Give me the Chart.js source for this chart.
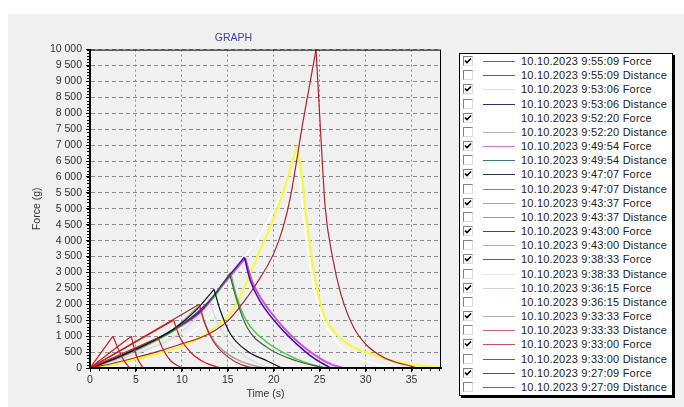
<!DOCTYPE html>
<html>
<head>
<meta charset="utf-8">
<script src="https://cdn.jsdelivr.net/npm/chart.js@4.4.1/dist/chart.umd.min.js"></script>
<style>
body { margin: 0; background: #fff; width: 684px; height: 407px; overflow: hidden; font-family: Arial, "Liberation Sans", sans-serif; }
#panel { position: absolute; left: 8px; top: 14px; width: 676px; height: 393px; background: #f0f0f0; }
#wrap { position: absolute; left: 8px; top: 14px; width: 450px; height: 393px; }
#legend { position: absolute; left: 459px; top: 53px; width: 212px; height: 341px; background: #fff; border: 1px solid #000; box-shadow: 2px 2px 0 #000; }
.row { position: absolute; left: 0; width: 212px; height: 14px; }
.box { position: absolute; left: 3px; top: 2px; width: 8px; height: 8px; background: #fff; border-top: 1px solid #808080; border-left: 1px solid #808080; border-right: 1px solid #dcdcdc; border-bottom: 1px solid #dcdcdc; }
.box svg { position: absolute; left: 0; top: 0; }
.line { position: absolute; left: 23px; top: 7px; width: 32px; height: 1px; }
.txt { position: absolute; left: 61px; top: 0; font-size: 11px; line-height: 14px; letter-spacing: 0.2px; color: #222; white-space: nowrap; }
</style>
</head>
<body>
<div id="panel"></div>
<div id="wrap"><canvas id="graph" width="450" height="393"></canvas></div>
<div id="legend"></div>
<script>
// legend entries
var testDate = '10.10.2023';
var testTimes = ['9:55:09', '9:53:06', '9:52:20', '9:49:54', '9:47:07', '9:43:37', '9:43:00', '9:38:33', '9:36:15', '9:33:33', '9:33:00', '9:27:09'];
var forceColors = ['#c84050', '#f4f040', '#ffffff', '#e070e0', '#303058', '#60d860', '#703070', '#606070', '#d0d8d8', '#b0b0b0', '#c85060', '#a03040'];
var distanceColors = ['#3a7a50', '#303070', '#b8b8b8', '#407878', '#a07878', '#a89870', '#50dcdc', '#e4e4e4', '#ffffff', '#d06070', '#b04050', '#c84060'];

// force curves: time (s) / force (g)
var t0955 = [0, 2.5, 5, 7.5, 10, 12, 13.6, 15, 16.4, 18, 20, 21, 21.8, 23.2, 24.6, 25.15, 25.6, 26.4, 27.3, 28.7, 30.2, 32, 33.5, 34.9, 35.6];
var f0955 = [0, 150, 330, 530, 760, 950, 1180, 1480, 1950, 2600, 3600, 4400, 5350, 7770, 10000, 7140, 5040, 3470, 2330, 1270, 690, 325, 160, 60, 0];
var t0953 = [0, 2, 4.4, 7, 9.8, 12, 14, 15.5, 17, 18.2, 20, 21.5, 22.5, 22.9, 23.6, 24.3, 25.2, 26.8, 28.4, 30.2, 32, 33.8, 35.6, 37.4, 38.1];
var f0953 = [0, 80, 230, 420, 660, 950, 1350, 1800, 2650, 3500, 4700, 5950, 6980, 6400, 4620, 3150, 1900, 1070, 700, 480, 300, 170, 90, 40, 0];
var t0952 = [0, 3, 6, 9, 12, 14.5, 16.7, 18.5, 20, 21.8, 22.3, 22.6, 23.3, 24, 24.9, 26.5, 28.4, 30.5, 33];
var f0952 = [0, 200, 450, 800, 1300, 2100, 3400, 4200, 4950, 6200, 6800, 6300, 4600, 3100, 1900, 950, 450, 180, 0];
var t0949 = [0, 3, 6, 9, 12, 15, 16.9, 17.6, 18.7, 20.9, 22.7, 24.6, 26.2, 27.5];
var f0949 = [0, 330, 720, 1170, 1750, 2800, 3450, 2760, 2150, 1320, 800, 380, 120, 0];
var t0947 = [0, 3, 6, 9, 11.5, 13.5, 14.2, 15.3, 17.1, 19.3, 20.9];
var f0947 = [0, 330, 730, 1200, 1800, 2470, 1790, 1060, 535, 220, 0];
var t0943b = [0, 3, 6, 9, 12, 13.7, 15.3, 16, 17.1, 19.3, 22.5, 24.5, 25.8];
var f0943b = [0, 320, 700, 1150, 1800, 2300, 3000, 2200, 1450, 800, 280, 80, 0];
var t0943 = [0, 3, 6, 9, 12, 15, 16.8, 17.45, 18.5, 20.7, 22.5, 24.4, 26.2];
var f0943 = [0, 340, 740, 1200, 1780, 2850, 3480, 2740, 2100, 1270, 750, 300, 0];
var t0938 = [0, 3, 6, 9, 12, 13.7, 15.2, 16, 17.1, 19.3, 22.5, 25.5];
var f0938 = [0, 330, 720, 1180, 1830, 2350, 2950, 2100, 1270, 640, 220, 0];
var t0936 = [0, 3, 6, 9, 12, 13, 13.6, 14.8, 16.5, 18.2, 19.6];
var f0936 = [0, 250, 560, 950, 1700, 2150, 1600, 950, 450, 150, 0];
var t0933b = [0, 3, 6, 9, 11.9, 12.4, 13.5, 15.3, 16.5, 17.8, 19];
var f0933b = [0, 300, 680, 1200, 1950, 1480, 850, 380, 200, 80, 0];
var t0933 = [0, 4.5, 4.8, 5.2, 5.8];
var f0933 = [0, 1000, 620, 280, 0];
var t0927 = [0, 2.5, 3, 3.6, 4.3];
var f0927 = [0, 1000, 650, 280, 0];
var tRedA = [0, 7.4, 8, 8.8, 10];
var fRedA = [0, 950, 560, 220, 0];
var tRedB = [0, 9.1, 9.8, 11, 12.5, 14.2];
var fRedB = [0, 1500, 950, 480, 170, 0];
var tRedC = [0, 11.9, 12.5, 13.5, 15, 16.5, 17.8];
var fRedC = [0, 2000, 1400, 800, 350, 100, 0];

var yTicks = [0, 10000, 500];
var xTicks = [0, 38.2, 5];

var curves = [
    { t: t0955, f: f0955, color: '#b0202e', width: 1.2 },
    { t: t0927, f: f0927, color: '#c82020', width: 1.2 },
    { t: t0933, f: f0933, color: '#c82020', width: 1.2 },
    { t: tRedA, f: fRedA, color: '#b82828', width: 1.2 },
    { t: tRedB, f: fRedB, color: '#c82020', width: 1.2 },
    { t: tRedC, f: fRedC, color: '#b82828', width: 1.2 },
    { t: t0947, f: f0947, color: '#101018', width: 1.2 },
    { t: t0938, f: f0938, color: '#505050', width: 1.2 },
    { t: t0943, f: f0943, color: '#4010a0', width: 1.5 },
    { t: t0943b, f: f0943b, color: '#30d030', width: 1.3 },
    { t: t0949, f: f0949, color: '#d050e0', width: 2 },
    { t: t0933b, f: f0933b, color: '#a0a0a0', width: 1.5 },
    { t: t0936, f: f0936, color: '#d8d8d8', width: 1.2 },
    { t: t0953, f: f0953, color: '#f8f840', width: 2.2 },
    { t: t0952, f: f0952, color: '#ffffff', width: 1.3 }
];

// split each curve at its peak so the peak stays sharp
var datasets = [];
curves.forEach(function (c) {
    var peak = c.f.indexOf(Math.max.apply(null, c.f));
    var pts = c.t.map(function (x, i) { return { x: x, y: c.f[i] }; });
    [pts.slice(0, peak + 1), pts.slice(peak)].forEach(function (part) {
        datasets.push({
            data: part,
            borderColor: c.color,
            borderWidth: c.width,
            pointRadius: 0,
            cubicInterpolationMode: 'monotone',
            fill: false
        });
    });
});

// legend (HTML, with check boxes)
var legend = document.getElementById('legend');
var rowIndex = 0;
testTimes.forEach(function (tm, i) {
    [['Force', forceColors[i], true], ['Distance', distanceColors[i], false]].forEach(function (e) {
        var row = document.createElement('div');
        row.className = 'row';
        row.style.top = (rowIndex * 14.17) + 'px';
        var box = '<div class="box">' + (e[2] ? '<svg width="8" height="8"><path d="M1 3.5 L3 5.5 L7 1.5" stroke="#000" stroke-width="1.6" fill="none"/></svg>' : '') + '</div>';
        row.innerHTML = box + '<div class="line" style="background:' + e[1] + '"></div><div class="txt">' + testDate + ' ' + tm + ' ' + e[0] + '</div>';
        legend.appendChild(row);
        rowIndex++;
    });
});

var fontFamily = 'Arial, "Liberation Sans", sans-serif';
Chart.defaults.font.family = fontFamily;
Chart.defaults.font.size = 10.5;
Chart.defaults.color = '#333';

var axisFrame = {
    id: 'axisFrame',
    afterDraw: function (chart) {
        var ctx = chart.ctx, a = chart.chartArea, x = chart.scales.x, y = chart.scales.y;
        ctx.save();
        ctx.strokeStyle = '#000';
        ctx.lineWidth = 1;
        ctx.strokeRect(a.left + 0.5, a.top + 0.5, a.right - a.left - 1, a.bottom - a.top - 1);
        ctx.beginPath();
        for (var v = 0; v <= x.max; v += 1) {
            var px = Math.round(x.getPixelForValue(v)) + 0.5;
            ctx.moveTo(px, a.bottom);
            ctx.lineTo(px, a.bottom + 3);
        }
        for (var w = 0; w <= y.max; w += 100) {
            var py = Math.round(y.getPixelForValue(w)) + 0.5;
            ctx.moveTo(a.left - 3, py);
            ctx.lineTo(a.left, py);
        }
        ctx.stroke();
        ctx.restore();
    }
};

var graph = new Chart(document.getElementById('graph').getContext('2d'), {
    type: 'line',
    data: { datasets: datasets },
    options: {
        responsive: false,
        animation: false,
        devicePixelRatio: 1,
        layout: { padding: { left: 18, right: 17, top: 0, bottom: 0 } },
        plugins: {
            legend: { display: false },
            tooltip: { enabled: false },
            title: {
                display: true,
                text: 'GRAPH',
                color: '#3c3cc8',
                font: { size: 10.5, weight: 'normal' },
                padding: { top: 18, bottom: 5 }
            }
        },
        scales: {
            x: {
                type: 'linear',
                min: xTicks[0],
                max: xTicks[1],
                afterFit: function (s) { s.height = 39; },
                ticks: { stepSize: xTicks[2], includeBounds: false, padding: 2, color: '#333' },
                grid: { color: '#8c8c8c', lineWidth: 1, tickLength: 4, tickColor: '#000' },
                border: { color: '#000', width: 2, dash: [2, 3] },
                title: { display: true, text: 'Time (s)', color: '#333', padding: { top: 0, bottom: 7 } }
            },
            y: {
                min: yTicks[0],
                max: yTicks[1],
                afterFit: function (s) { s.width = 64; },
                ticks: {
                    stepSize: yTicks[2],
                    autoSkip: false,
                    padding: 4,
                    color: '#333',
                    callback: function (v) { return String(v).replace(/\B(?=(\d{3})+(?!\d))/g, ' '); }
                },
                grid: { color: '#8c8c8c', lineWidth: 1, tickLength: 4, tickColor: '#000' },
                border: { color: '#000', width: 2, dash: [4, 3] },
                title: { display: true, text: 'Force (g)', color: '#333', padding: { top: 5, bottom: 0 } }
            }
        }
    },
    plugins: [axisFrame]
});
</script>
</body>
</html>
